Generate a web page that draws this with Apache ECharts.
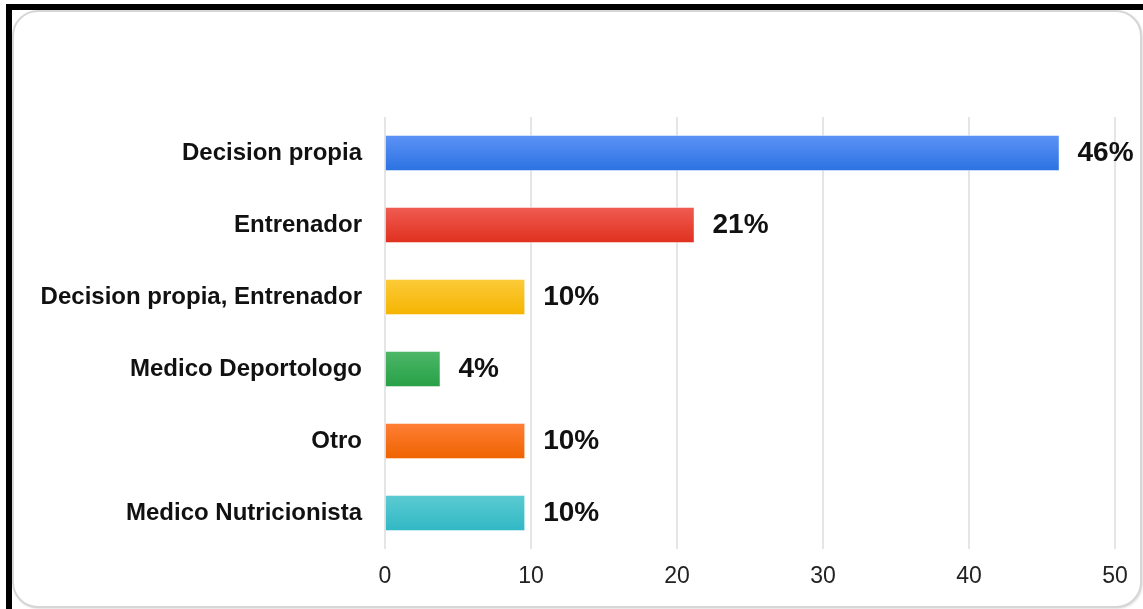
<!DOCTYPE html>
<html>
<head>
<meta charset="utf-8">
<script src="https://cdn.jsdelivr.net/npm/echarts@6/dist/echarts.min.js"></script>
<style>
  html, body { margin: 0; padding: 0; background: #fff; }
  #wrap { position: relative; width: 1143px; height: 609px; overflow: hidden; }
  .frameTop { position: absolute; left: 6px; top: 4px; width: 1137px; height: 6px; background: #000; }
  .frameLeft { position: absolute; left: 6px; top: 4px; width: 6px; height: 605px; background: #000; }
  .card {
    position: absolute; left: 12px; top: 10px; width: 1126px; height: 594px;
    border: 2px solid #d6d6d6; border-radius: 26px; background: #fff;
    box-shadow: 1px 1px 2px rgba(0,0,0,0.12);
  }
  #chart { position: absolute; left: 0; top: 0; width: 1143px; height: 609px; }
</style>
</head>
<body>
<div id="wrap">
  <div class="card"></div>
  <div class="frameTop"></div>
  <div class="frameLeft"></div>
  <div id="chart"></div>
</div>
<script>
// Who decides on supplementation: share of respondents (%)
const categories = [
  'Decision propia',
  'Entrenador',
  'Decision propia, Entrenador',
  'Medico Deportologo',
  'Otro',
  'Medico Nutricionista'
];
const percentages = [46.2, 21.2, 9.6, 3.8, 9.6, 9.6];
const axisTicks = [0, 10, 20, 30, 40, 50];

// top / bottom shades of each bar's vertical gradient
const barShades = [
  ['#5d93f6', '#2b72e2'],
  ['#f05c52', '#e0301f'],
  ['#fccb3a', '#f5b400'],
  ['#4db768', '#27a047'],
  ['#ff7f36', '#ef6300'],
  ['#5ccad2', '#30b8c4']
];

const chart = echarts.init(document.getElementById('chart'), null, { renderer: 'canvas' });

const seriesData = percentages.map((v, i) => ({
  value: v,
  itemStyle: {
    color: new echarts.graphic.LinearGradient(0, 0, 0, 1, [
      { offset: 0, color: barShades[i][0] },
      { offset: 1, color: barShades[i][1] }
    ]),
    borderColor: 'rgba(255,255,255,0.45)',
    borderWidth: 1
  }
}));

chart.setOption({
  backgroundColor: 'transparent',
  animation: false,
  grid: { left: 385, right: 28, top: 117, bottom: 60, containLabel: false },
  xAxis: {
    type: 'value',
    min: axisTicks[0],
    max: axisTicks[axisTicks.length - 1],
    interval: axisTicks[1] - axisTicks[0],
    axisLine: { show: false },
    axisTick: { show: false },
    splitLine: { show: true, lineStyle: { color: '#dcdcdc', width: 1.5 } },
    axisLabel: {
      margin: 16,
      color: '#222',
      fontFamily: 'Liberation Sans, Arial, sans-serif',
      fontSize: 23
    }
  },
  yAxis: {
    type: 'category',
    inverse: true,
    data: categories,
    axisLine: { show: false },
    axisTick: { show: false },
    axisLabel: {
      margin: 23,
      color: '#111',
      fontFamily: 'Liberation Sans, Arial, sans-serif',
      fontSize: 24,
      fontWeight: 'bold'
    }
  },
  series: [{
    type: 'bar',
    data: seriesData,
    barCategoryGap: '50%',
    label: {
      show: true,
      position: 'right',
      distance: 18,
      color: '#111',
      fontFamily: 'Liberation Sans, Arial, sans-serif',
      fontSize: 28,
      fontWeight: 'bold',
      formatter: p => Math.round(p.value) + '%'
    }
  }]
});
</script>
</body>
</html>
